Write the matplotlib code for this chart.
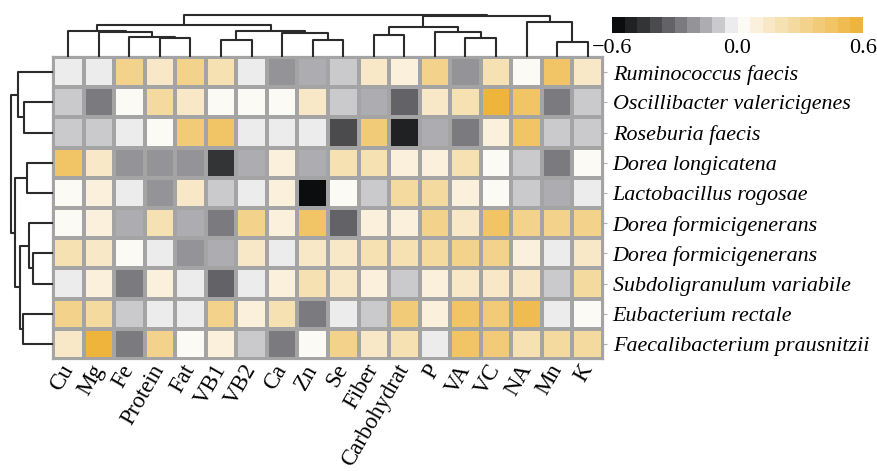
import numpy as np
import matplotlib
matplotlib.use("Agg")
import matplotlib.pyplot as plt
from matplotlib.colors import ListedColormap, Normalize
from matplotlib.cm import ScalarMappable

plt.rcParams['font.family'] = ['Liberation Serif', 'DejaVu Serif']

# ---- data ----
nutrients = ["Cu", "Mg", "Fe", "Protein", "Fat", "VB1", "VB2", "Ca", "Zn", "Se",
             "Fiber", "Carbohydrat", "P", "VA", "VC", "NA", "Mn", "K"]
bacteria = ["Ruminococcus faecis", "Oscillibacter valericigenes", "Roseburia faecis",
            "Dorea longicatena", "Lactobacillus rogosae", "Dorea formicigenerans",
            "Dorea formicigenerans", "Subdoligranulum variabile", "Eubacterium rectale",
            "Faecalibacterium prausnitzii"]

corr = [
    [-0.03, -0.03, 0.33, 0.15, 0.33, 0.21, -0.03, -0.21, -0.15, -0.09, 0.15, 0.09, 0.33, -0.21, 0.21, 0.03, 0.45, 0.15],
    [-0.09, -0.27, 0.03, 0.27, 0.15, 0.03, 0.03, 0.03, 0.13, -0.09, -0.15, -0.33, 0.13, 0.21, 0.57, 0.42, -0.27, -0.09],
    [-0.09, -0.09, -0.03, 0.03, 0.36, 0.42, -0.03, -0.03, -0.03, -0.42, 0.36, -0.50, -0.15, -0.27, 0.09, 0.42, -0.09, -0.09],
    [0.42, 0.15, -0.21, -0.21, -0.21, -0.48, -0.15, 0.09, -0.15, 0.21, 0.21, 0.09, 0.09, 0.21, 0.03, -0.09, -0.27, 0.03],
    [0.03, 0.09, -0.03, -0.21, 0.15, -0.09, -0.03, 0.09, -0.59, 0.03, -0.09, 0.27, 0.27, 0.09, 0.03, -0.09, -0.15, -0.03],
    [0.03, 0.09, -0.15, 0.21, -0.15, -0.27, 0.33, 0.09, 0.42, -0.33, 0.09, 0.09, 0.33, 0.15, 0.42, 0.33, 0.33, 0.33],
    [0.21, 0.13, 0.03, -0.03, -0.21, -0.15, 0.13, -0.03, 0.15, 0.17, 0.21, 0.19, 0.27, 0.33, 0.33, 0.09, -0.03, 0.15],
    [-0.03, 0.09, -0.27, 0.09, -0.03, -0.33, -0.03, 0.09, 0.21, 0.15, 0.09, -0.09, 0.09, 0.15, 0.15, 0.15, -0.09, 0.27],
    [0.33, 0.27, -0.09, -0.03, -0.03, 0.33, 0.09, 0.21, -0.27, -0.03, -0.09, 0.39, 0.09, 0.42, 0.39, 0.51, -0.03, 0.03],
    [0.15, 0.57, -0.27, 0.33, 0.03, 0.09, -0.09, -0.27, 0.03, 0.33, 0.15, 0.21, -0.03, 0.42, 0.39, 0.21, 0.27, 0.27],
]

# dendrograms: (left child, right child, merge height); ints are leaves, 'cN' earlier merges
col_tree = [(3, 4, 19.3), (2, 'c0', 20.5), (1, 'c1', 24.7), (0, 'c2', 26.0),
            (5, 6, 17.0), (8, 9, 17.0), (7, 'c5', 23.7), ('c4', 'c6', 26.0),
            ('c3', 'c7', 32.0), (10, 11, 22.0), (13, 14, 18.7), (12, 'c10', 24.7),
            ('c9', 'c11', 30.3), (16, 17, 14.7), (15, 'c13', 35.3),
            ('c12', 'c14', 41.5), ('c8', 'c15', 42.5)]
row_tree = [(1, 2, 29.0), (0, 'c0', 35.3), (3, 4, 26.3), (6, 7, 20.3), (5, 'c3', 23.7),
            (8, 9, 29.7), ('c4', 'c5', 33.0), ('c2', 'c6', 38.5), ('c1', 'c7', 41.7)]

# ---- style ----
cb_colors = ["#0b0d0f", "#1f2123", "#333436", "#4b4a4d", "#636266", "#7b7a7e",
             "#949398", "#adacb1", "#cacacd", "#ececed", "#fcfaf4", "#faf0dc",
             "#f8e8c7", "#f6e1b2", "#f4da9f", "#f3d38c", "#f2cb79", "#f1c466",
             "#f0bc52", "#eeb43c"]
cmap = ListedColormap(cb_colors)
norm = Normalize(-0.6, 0.6)
W, H = 877, 471
fig = plt.figure(figsize=(W / 100, H / 100), dpi=100)


def px_axes(x0, y0, x1, y1):
    return fig.add_axes([x0 / W, 1 - y1 / H, (x1 - x0) / W, (y1 - y0) / H])


def draw_tree(ax, merges, n, top):
    pos = {i: i + 0.5 for i in range(n)}
    hgt = {i: 0.0 for i in range(n)}
    for k, (a, b, h) in enumerate(merges):
        xs = [pos[a], pos[a], pos[b], pos[b]]
        ys = [hgt[a], h, h, hgt[b]]
        if top:
            ax.plot(xs, ys, color="#2b2b2b", lw=1.5, solid_capstyle="butt")
        else:
            ax.plot(ys, xs, color="#2b2b2b", lw=1.5, solid_capstyle="butt")
        pos["c%d" % k] = (pos[a] + pos[b]) / 2
        hgt["c%d" % k] = h


# heatmap
ax = px_axes(53, 57, 603, 359)
ax.pcolormesh(np.array(corr), cmap=cmap, norm=norm, edgecolors="#a4a4a4", linewidth=1.6)
ax.set_xlim(0, len(nutrients))
ax.set_ylim(len(bacteria), 0)
for s in ax.spines.values():
    s.set_color("#a4a4a4")
    s.set_linewidth(1.6)
ax.set_xticks(np.arange(len(nutrients)) + 0.5)
ax.set_xticklabels(nutrients, rotation=60, ha="right", va="center",
                   rotation_mode="anchor", fontsize=16.5)
ax.tick_params(axis="x", length=0, pad=5)
ax.yaxis.tick_right()
ax.set_yticks(np.arange(len(bacteria)) + 0.5)
ax.set_yticklabels(bacteria, fontsize=15.8, style="italic")
ax.tick_params(axis="y", length=3, color="#b0b0b0", pad=4)

# column dendrogram
axt = px_axes(53, 10, 603, 57)
draw_tree(axt, col_tree, len(nutrients), True)
axt.set_xlim(0, len(nutrients))
axt.set_ylim(0, 47)
axt.axis("off")

# row dendrogram
axl = px_axes(0, 57, 53, 359)
draw_tree(axl, row_tree, len(bacteria), False)
axl.set_xlim(53, 0)
axl.set_ylim(len(bacteria), 0)
axl.axis("off")

# colour key
cax = px_axes(612, 17, 863, 33)
cb = fig.colorbar(ScalarMappable(norm=norm, cmap=cmap), cax=cax,
                  orientation="horizontal", ticks=[-0.6, 0.0, 0.6])
cb.outline.set_visible(False)
cb.ax.set_xticklabels(["\u22120.6", "0.0", "0.6"], fontsize=16)
cb.ax.tick_params(length=0, pad=4)

fig.savefig("out.png", dpi=100, facecolor="white")
